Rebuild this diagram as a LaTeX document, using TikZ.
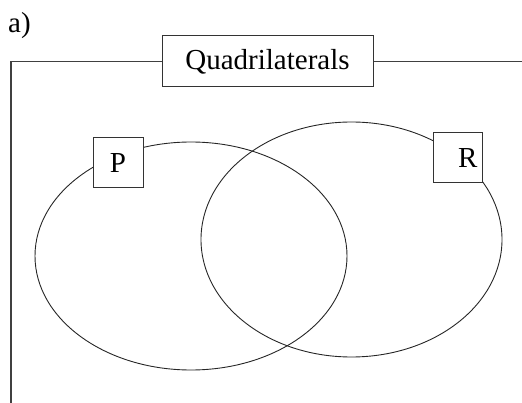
\documentclass[tikz,border=0pt]{standalone}
\usepackage{fontspec}
\setmainfont{Liberation Serif}
\begin{document}
\begin{tikzpicture}[x=1pt,y=-1pt,
  labelbox/.style={draw=black!80,line width=1pt,fill=white,inner sep=0pt,font=\fontsize{29}{32}\selectfont},
  frameline/.style={draw=black!75,line width=1.1pt},
  setline/.style={draw=black!85,line width=0.9pt}]
\useasboundingbox (0,0) rectangle (522,403);
% sets
\draw[setline] (191,256) ellipse [x radius=156, y radius=114];
\draw[setline] (351.5,239.5) ellipse [x radius=150.5, y radius=117.5];
% label "a)"
\node[anchor=base west,inner sep=0pt,font=\fontsize{29}{32}\selectfont] (lab) at (8,33) {a)};
% title box and frame
\node[labelbox,minimum width=211pt,minimum height=51pt] (Q) at (267.5,61.5) {Quadrilaterals};
\coordinate (c) at (11,61.5);
\coordinate (b) at (11,403);
\coordinate (e) at (522,61.5);
\draw[frameline] (Q.west) -- (c) -- (b);
\draw[frameline] (Q.east) -- (e);
% set labels
\node[labelbox,minimum width=50pt,minimum height=50pt] (P) at (118,163) {P};
\node[labelbox,minimum width=49pt,minimum height=50pt,text width=40pt,align=right] (R) at (457.5,158) {R};
\end{tikzpicture}
\end{document}
